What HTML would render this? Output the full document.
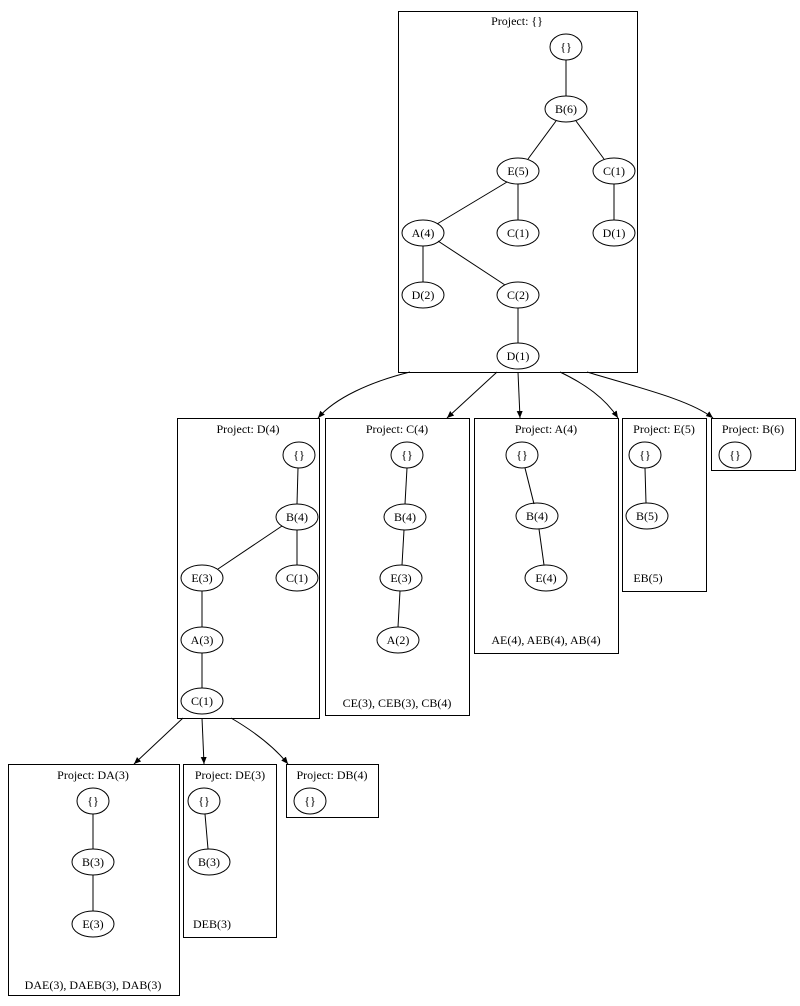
<!DOCTYPE html>
<html><head><meta charset="utf-8"><style>
html,body{margin:0;padding:0;background:#fff;}
svg{display:block;}
text{font-family:"Liberation Serif",serif;font-size:12px;fill:#000;}
</style></head><body>
<svg width="800" height="1006" viewBox="0 0 800 1006" xmlns="http://www.w3.org/2000/svg">
<defs><marker id="a" markerWidth="8" markerHeight="8" refX="7" refY="4" orient="auto" markerUnits="userSpaceOnUse"><path d="M0,1 L7,4 L0,7 z" fill="#000"/></marker></defs>
<g fill="none" stroke="#000" stroke-width="1">
<!-- boxes -->
<rect x="398.5" y="11.5" width="239" height="361"/>
<rect x="177.5" y="418.5" width="142" height="300"/>
<rect x="325.5" y="418.5" width="144" height="297"/>
<rect x="474.5" y="418.5" width="144" height="235"/>
<rect x="622.5" y="418.5" width="84" height="173"/>
<rect x="711.5" y="418.5" width="84" height="52"/>
<rect x="8.5" y="764.5" width="171" height="231"/>
<rect x="183.5" y="764.5" width="93" height="173"/>
<rect x="286.5" y="764.5" width="92" height="53"/>
<!-- tree edges top -->
<line x1="566" y1="60" x2="566" y2="96"/>
<line x1="556" y1="121" x2="528" y2="159"/>
<line x1="576" y1="121" x2="604" y2="159"/>
<line x1="507" y1="182" x2="437" y2="224"/>
<line x1="518" y1="184" x2="518" y2="220"/>
<line x1="614" y1="184" x2="614" y2="220"/>
<line x1="423" y1="246" x2="423" y2="282"/>
<line x1="438" y1="241" x2="505" y2="285"/>
<line x1="518" y1="308" x2="518" y2="343"/>
<!-- D(4) -->
<line x1="298" y1="468" x2="297" y2="504"/>
<line x1="282" y1="526" x2="218" y2="569"/>
<line x1="297" y1="530" x2="297" y2="565"/>
<line x1="202" y1="591" x2="202" y2="627"/>
<line x1="202" y1="653" x2="202" y2="688"/>
<!-- C(4) -->
<line x1="407" y1="468" x2="405" y2="504"/>
<line x1="404" y1="530" x2="402" y2="565"/>
<line x1="400" y1="591" x2="398" y2="627"/>
<!-- A(4) -->
<line x1="525" y1="468" x2="534" y2="504"/>
<line x1="539" y1="529" x2="544" y2="565"/>
<!-- E(5) -->
<line x1="645" y1="468" x2="646" y2="503"/>
<!-- DA/DE -->
<line x1="93" y1="814" x2="93" y2="849"/>
<line x1="93" y1="875" x2="93" y2="911"/>
<line x1="205" y1="814" x2="208" y2="849"/>
<!-- arrows -->
<path d="M410,372 C370,382 335,398 318,418" marker-end="url(#a)"/>
<path d="M497,372 L447,418" marker-end="url(#a)"/>
<path d="M518,372 L520,418" marker-end="url(#a)"/>
<path d="M560,372 C585,384 605,398 618,418" marker-end="url(#a)"/>
<path d="M587,372 C640,388 690,400 713,418" marker-end="url(#a)"/>
<path d="M183,718 L134,764" marker-end="url(#a)"/>
<path d="M202,718 L204,764" marker-end="url(#a)"/>
<path d="M231,718 C255,732 275,748 288,764" marker-end="url(#a)"/>
<!-- ellipses -->
<ellipse cx="566" cy="47" rx="16" ry="13"/>
<ellipse cx="566" cy="109" rx="21" ry="13"/>
<ellipse cx="518" cy="171" rx="21" ry="13"/>
<ellipse cx="614" cy="171" rx="21" ry="13"/>
<ellipse cx="423" cy="233" rx="21" ry="13"/>
<ellipse cx="518" cy="233" rx="21" ry="13"/>
<ellipse cx="614" cy="233" rx="21" ry="13"/>
<ellipse cx="423" cy="295" rx="21" ry="13"/>
<ellipse cx="518" cy="295" rx="21" ry="13"/>
<ellipse cx="518" cy="356" rx="21" ry="13"/>
<ellipse cx="299" cy="455" rx="16" ry="13"/>
<ellipse cx="297" cy="517" rx="21" ry="13"/>
<ellipse cx="202" cy="578" rx="21" ry="13"/>
<ellipse cx="297" cy="578" rx="21" ry="13"/>
<ellipse cx="202" cy="640" rx="21" ry="13"/>
<ellipse cx="202" cy="701" rx="21" ry="13"/>
<ellipse cx="407" cy="455" rx="16" ry="13"/>
<ellipse cx="405" cy="517" rx="21" ry="13"/>
<ellipse cx="401" cy="578" rx="21" ry="13"/>
<ellipse cx="398" cy="640" rx="21" ry="13"/>
<ellipse cx="522" cy="455" rx="16" ry="13"/>
<ellipse cx="537" cy="516" rx="21" ry="13"/>
<ellipse cx="546" cy="578" rx="21" ry="13"/>
<ellipse cx="645" cy="455" rx="16" ry="13"/>
<ellipse cx="647" cy="516" rx="21" ry="13"/>
<ellipse cx="735" cy="455" rx="16" ry="13"/>
<ellipse cx="93" cy="801" rx="16" ry="13"/>
<ellipse cx="93" cy="862" rx="21" ry="13"/>
<ellipse cx="93" cy="924" rx="21" ry="13"/>
<ellipse cx="204" cy="801" rx="16" ry="13"/>
<ellipse cx="209" cy="862" rx="21" ry="13"/>
<ellipse cx="310" cy="801" rx="16" ry="13"/>
</g>
<g text-anchor="middle">
<text x="517" y="25">Project: {}</text>
<text x="566" y="51">{}</text><text x="566" y="113">B(6)</text>
<text x="518" y="175">E(5)</text><text x="614" y="175">C(1)</text>
<text x="423" y="237">A(4)</text><text x="518" y="237">C(1)</text><text x="614" y="237">D(1)</text>
<text x="423" y="299">D(2)</text><text x="518" y="299">C(2)</text><text x="518" y="360">D(1)</text>
<text x="248" y="433">Project: D(4)</text>
<text x="299" y="459">{}</text><text x="297" y="521">B(4)</text>
<text x="202" y="582">E(3)</text><text x="297" y="582">C(1)</text>
<text x="202" y="644">A(3)</text><text x="202" y="705">C(1)</text>
<text x="397" y="433">Project: C(4)</text>
<text x="407" y="459">{}</text><text x="405" y="521">B(4)</text>
<text x="401" y="582">E(3)</text><text x="398" y="644">A(2)</text>
<text x="397" y="707">CE(3), CEB(3), CB(4)</text>
<text x="546" y="433">Project: A(4)</text>
<text x="522" y="459">{}</text><text x="537" y="520">B(4)</text><text x="546" y="582">E(4)</text>
<text x="546" y="644">AE(4), AEB(4), AB(4)</text>
<text x="664" y="433">Project: E(5)</text>
<text x="645" y="459">{}</text><text x="647" y="520">B(5)</text>
<text x="648" y="582">EB(5)</text>
<text x="753" y="433">Project: B(6)</text>
<text x="735" y="459">{}</text>
<text x="93" y="779">Project: DA(3)</text>
<text x="93" y="805">{}</text><text x="93" y="866">B(3)</text><text x="93" y="928">E(3)</text>
<text x="93" y="989">DAE(3), DAEB(3), DAB(3)</text>
<text x="230" y="779">Project: DE(3)</text>
<text x="204" y="805">{}</text><text x="209" y="866">B(3)</text>
<text x="212" y="928">DEB(3)</text>
<text x="332" y="779">Project: DB(4)</text>
<text x="310" y="805">{}</text>
</g>
</svg>
</body></html>
